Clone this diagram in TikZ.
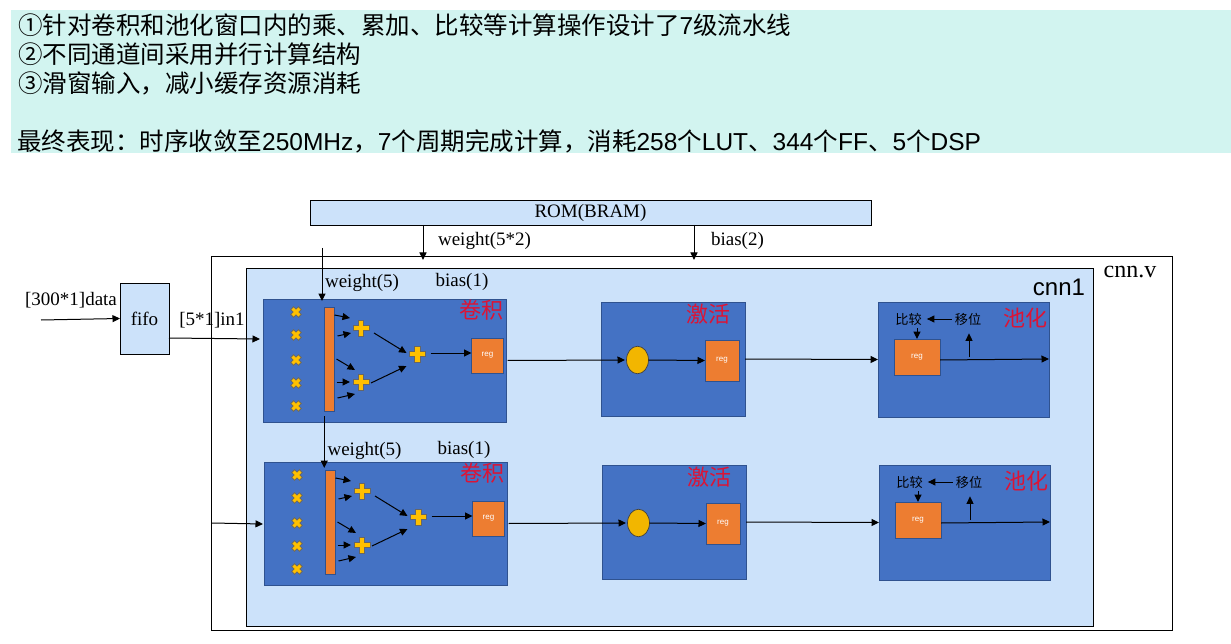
\documentclass[tikz,border=0pt]{standalone}
\usepackage{fontspec}
\setmainfont{Liberation Serif}
\newfontfamily\cjk{Noto Sans CJK SC}
\newfontfamily\lsans{Liberation Sans}
\usetikzlibrary{arrows.meta,shapes.geometric}
\definecolor{band}{HTML}{D2F4F0}
\definecolor{lightb}{HTML}{CCE2FA}
\definecolor{blk}{HTML}{4472C4}
\definecolor{blkedge}{HTML}{2F528F}
\definecolor{org}{HTML}{ED7D31}
\definecolor{yel}{HTML}{FFC000}
\definecolor{redt}{HTML}{DC1435}
\newcommand{\fs}[1]{\fontsize{#1}{#1}\selectfont}
\tikzset{
  box/.style={draw=black,line width=0.9pt,inner sep=0pt,outer sep=0pt,anchor=north west},
  lightbox/.style={box,fill=lightb},
  plain/.style={draw=black,line width=0.9pt,fill=white,inner sep=0pt,outer sep=0pt,anchor=north west},
  block/.style={draw=blkedge,line width=0.8pt,fill=blk,inner sep=0pt,outer sep=0pt,anchor=north west},
  regbox/.style={draw=blkedge,line width=0.7pt,fill=org,inner sep=0pt,outer sep=0pt,anchor=north west,text=white,font={\lsans\fs{8}}},
  barbox/.style={draw=blkedge,line width=0.5pt,fill=org,inner sep=0pt,outer sep=0pt,anchor=north west},
  lab/.style={inner sep=0pt,yshift=-1.3pt,font=\fs{19}},
  title/.style={inner sep=0pt,text=redt,font={\cjk\fs{22}}},
  small/.style={inner sep=0pt,font={\cjk\fs{13.2}}},
  arr/.style={draw=black,line width=1pt,-{Triangle[length=7.5pt,width=7pt]}},
  glyph/.style={fill=yel,draw=black!60,line width=0.8pt},
  bandtext/.style={inner sep=0pt,anchor=west,font={\lsans\fs{24.5}}},
}
\newcommand{\plusat}[3]{% name, x, y
  \coordinate (#1) at (#2,#3);
  \draw[glyph,shift={(#1)}] (-2.8,-8)--(2.8,-8)--(2.8,-2.8)--(8,-2.8)--(8,2.8)--(2.8,2.8)--(2.8,8)--(-2.8,8)--(-2.8,2.8)--(-8,2.8)--(-8,-2.8)--(-2.8,-2.8)--cycle;}
\newcommand{\crossat}[3]{%
  \coordinate (#1) at (#2,#3);
  \draw[glyph,shift={(#1)},rotate=45] (-2,-5.5)--(2,-5.5)--(2,-2)--(5.5,-2)--(5.5,2)--(2,2)--(2,5.5)--(-2,5.5)--(-2,2)--(-5.5,2)--(-5.5,-2)--(-2,-2)--cycle;}
\newcommand{\row}[1]{% prefix
  % convolution
  \node[block,minimum width=243pt,minimum height=123pt] (#1conv) at (263,299) {};
  \node[title] (#1ctitle) at (481,310) {卷积};
  \crossat{#1x1}{296}{312}\crossat{#1x2}{296}{335}\crossat{#1x3}{296}{360}\crossat{#1x4}{296}{383}\crossat{#1x5}{296}{406}
  \node[barbox,minimum width=10.5pt,minimum height=104pt] (#1bar) at (324,307) {};
  \plusat{#1p1}{361}{328}\plusat{#1p2}{361}{382}\plusat{#1p3}{417.5}{354}
  \node[regbox,minimum width=32pt,minimum height=35pt] (#1creg) at (471.5,338) {reg};
  \draw[arr] ([shift={(0,8)}]#1bar.north east) -- ([shift={(-11,-10)}]#1p1);
  \draw[arr] ([shift={(3,29)}]#1bar.north east) -- ([shift={(-10,5)}]#1p1);
  \draw[arr] ([shift={(2,52)}]#1bar.north east) -- ([shift={(-6,-12)}]#1p2);
  \draw[arr] ([shift={(2,75)}]#1bar.north east) -- ([shift={(-11,0)}]#1p2);
  \draw[arr] ([shift={(3,91)}]#1bar.north east) -- ([shift={(-6,12)}]#1p2);
  \draw[arr] ([shift={(13,5)}]#1p1) -- ([shift={(-11,-1)}]#1p3);
  \draw[arr] ([shift={(10,1)}]#1p2) -- ([shift={(-11,12)}]#1p3);
  \draw[arr] ([shift={(13,-1)}]#1p3) -- ([yshift=2.5pt]#1creg.west);
  % activation
  \node[block,minimum width=144pt,minimum height=114pt] (#1act) at (601,302) {};
  \node[title] (#1atitle) at (708,314) {激活};
  \node[draw=black!75,line width=0.7pt,fill=yel!95!black,ellipse,minimum width=22pt,minimum height=27.5pt,inner sep=0pt,outer sep=0pt] (#1circ) at (637.5,360) {};
  \node[regbox,minimum width=34pt,minimum height=41pt] (#1areg) at (705,340) {reg};
  \draw[arr] (#1circ.east) -- (#1areg.west);
  % pooling
  \node[block,minimum width=171pt,minimum height=115pt] (#1pool) at (878,302) {};
  \node[title] (#1ptitle) at (1025,318) {池化};
  \node[small] (#1cmp) at (908.5,319) {比较};
  \node[small] (#1shf) at (968,319) {移位};
  \node[regbox,minimum width=46pt,minimum height=36pt] (#1preg) at (894,339) {reg};
  \coordinate (#1up) at (969,357);
  \coordinate (#1dn) at (917,328);
  \draw[arr] ([xshift=-3pt]#1shf.west) -- ([xshift=5pt]#1cmp.east);
  \draw[arr] (#1dn) -- (#1dn |- #1preg.north);
  \draw[arr] (#1up) -- ([yshift=-8pt]#1shf.south -| #1up);
  \draw[arr] ([yshift=-3pt]#1preg.east) -- ([yshift=0.5pt]#1pool.east);
  % links
  \draw[arr] ([xshift=1.5pt]#1conv.east) -- ([xshift=-1.5pt]#1circ.west);
  \draw[arr] (#1act.east) -- (#1pool.west);
}
\begin{document}
\begin{tikzpicture}[x=1pt,y=-1pt]
\useasboundingbox (0,0) rectangle (1231,644);
\fill[white] (0,0) rectangle (1231,644);
\fill[band] (10.5,10) rectangle (1231,153.5);
\node[bandtext] (l1) at (18,25) {{\cjk ①针对卷积和池化窗口内的乘、累加、比较等计算操作设计了}7{\cjk 级流水线}};
\node[bandtext] (l2) at (18,54) {{\cjk ②不同通道间采用并行计算结构}};
\node[bandtext] (l3) at (18,83) {{\cjk ③滑窗输入，减小缓存资源消耗}};
\node[bandtext] (l4) at (17,141) {{\cjk 最终表现：时序收敛至}250MHz{\cjk ，}7{\cjk 个周期完成计算，消耗}258{\cjk 个}LUT{\cjk 、}344{\cjk 个}FF{\cjk 、}5{\cjk 个}DSP};

\node[lightbox,minimum width=561pt,minimum height=25pt] (rom) at (310,200) {};
\node[lab] (romt) at (590.5,212) {ROM(BRAM)};
\node[plain,minimum width=961pt,minimum height=374pt] (cnnv) at (211,256) {};
\node[lightbox,minimum width=847pt,minimum height=358pt] (cnn1) at (246,268) {};
\node[inner sep=0pt,font={\lsans\fs{24}}] (cnn1t) at (1059,287) {cnn1};
\node[inner sep=0pt,font=\fs{24}] (cnnvt) at (1130,272) {cnn.v};

\coordinate (romw) at (423,225);
\coordinate (romb) at (694,225);
\coordinate (romwe) at (423,260);
\coordinate (rombe) at (694,260);
\draw[arr] (romw) -- (romwe);
\draw[arr] (romb) -- (rombe);
\node[lab] (wl) at (484.5,240) {weight(5*2)};
\node[lab] (bl) at (737.5,240) {bias(2)};

\node[lightbox,minimum width=49pt,minimum height=71pt,font=\fs{19}] (fifo) at (120,283) {fifo};
\coordinate (din) at (41,320);
\draw[arr] (din) -- (fifo.west);
\node[lab] (dl) at (71,299) {[300*1]data};

\begin{scope}
\row{a}
\end{scope}
\begin{scope}[shift={(1,163)}]
\row{b}
\end{scope}

\node[lab] (w1) at (362,282) {weight(5)};
\node[lab] (b1) at (462,281) {bias(1)};
\node[lab] (w2) at (364.5,450) {weight(5)};
\node[lab] (b2) at (464,449) {bias(1)};
\node[lab] (il) at (212,319) {[5*1]in1};

\coordinate (wtop) at (322,248);
\coordinate (wtopend) at (322,301);
\draw[arr] (wtop) -- (wtopend);
\draw[arr] ([shift={(-5,5)}]abar.south) -- ([shift={(-6,-2)}]bbar.north);
\draw[arr] (fifo.east |- 0,338) -- (260,339);
\coordinate (bin) at (212,523);
\draw[arr] (bin) -- (263,524);
\end{tikzpicture}
\end{document}
